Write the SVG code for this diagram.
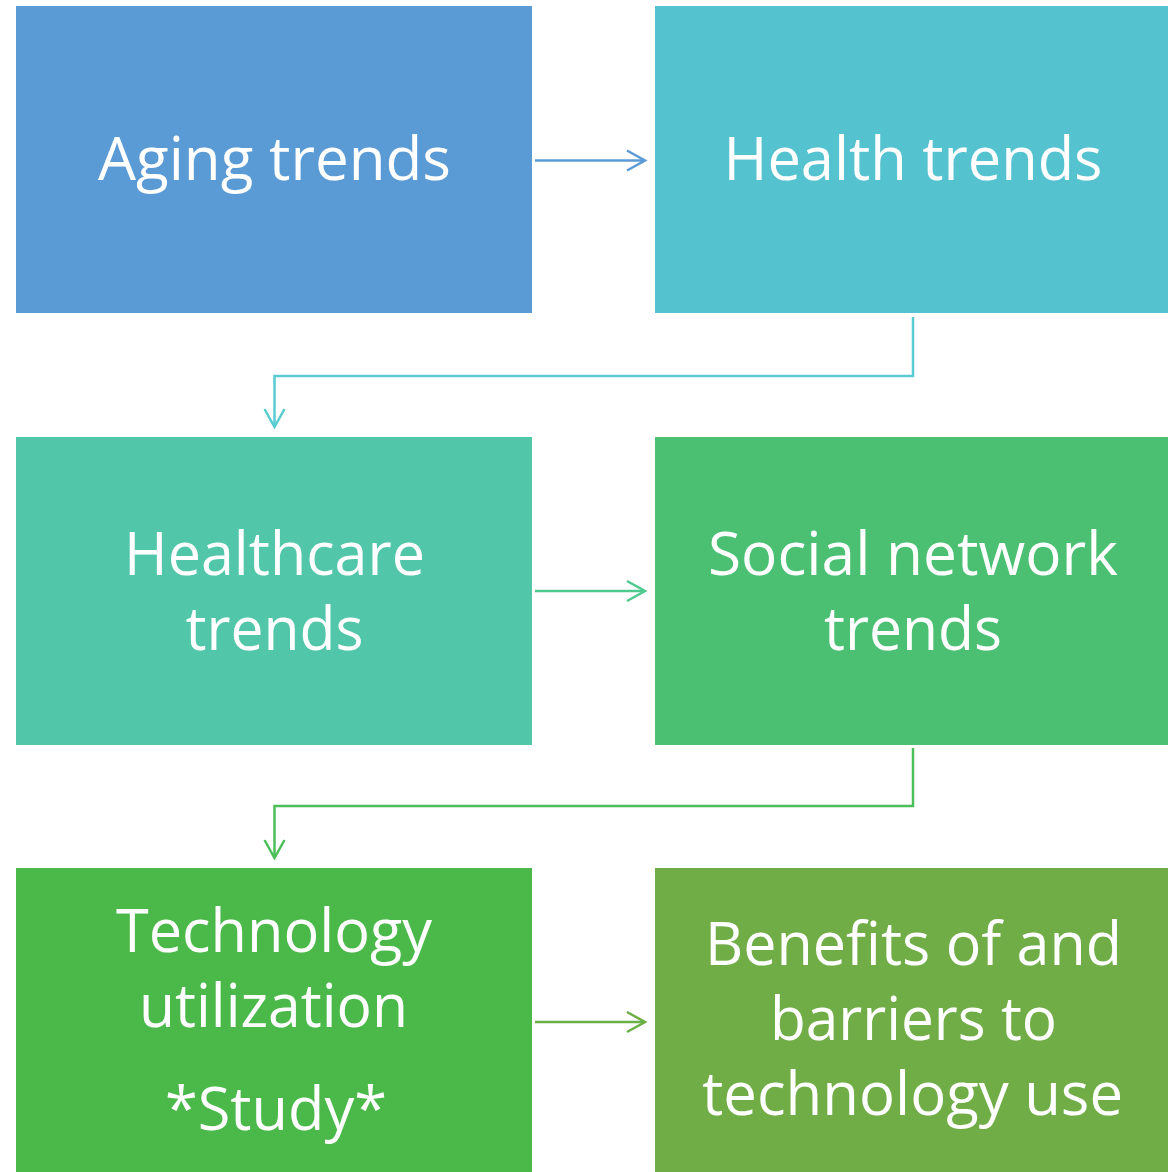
<svg xmlns="http://www.w3.org/2000/svg" width="1168" height="1172" viewBox="0 0 1168 1172">
  <style>
    .lbl { font-family: "Open Sans", "Noto Sans", sans-serif; font-size: 61px; fill: #ffffff; text-anchor: middle; }
    .con { fill: none; stroke-width: 2.5; stroke-linejoin: miter; }
    .head { fill: none; stroke-width: 2.5; stroke-linecap: butt; stroke-linejoin: miter; }
  </style>
  <rect width="1168" height="1172" fill="#ffffff"/>

  <g id="node-aging">
    <rect x="16" y="6" width="516" height="307" fill="#5B9BD5"/>
    <text class="lbl" x="274.5" y="180" textLength="353" lengthAdjust="spacingAndGlyphs">Aging trends</text>
  </g>
  <g id="node-health">
    <rect x="655" y="6" width="513" height="307" fill="#55C2CF"/>
    <text class="lbl" x="913" y="180" textLength="379" lengthAdjust="spacingAndGlyphs">Health trends</text>
  </g>
  <g id="node-healthcare">
    <rect x="16" y="437" width="516" height="308" fill="#51C6A9"/>
    <text class="lbl" x="274.5" y="575" textLength="301" lengthAdjust="spacingAndGlyphs">Healthcare</text>
    <text class="lbl" x="274.5" y="650" textLength="178" lengthAdjust="spacingAndGlyphs">trends</text>
  </g>
  <g id="node-social">
    <rect x="655" y="437" width="513" height="308" fill="#4BC073"/>
    <text class="lbl" x="913" y="575" textLength="410" lengthAdjust="spacingAndGlyphs">Social network</text>
    <text class="lbl" x="913" y="650" textLength="178" lengthAdjust="spacingAndGlyphs">trends</text>
  </g>
  <g id="node-technology">
    <rect x="16" y="868" width="516" height="304" fill="#4AB94A"/>
    <text class="lbl" x="274" y="952" textLength="316" lengthAdjust="spacingAndGlyphs">Technology</text>
    <text class="lbl" x="273.5" y="1027" textLength="269" lengthAdjust="spacingAndGlyphs">utilization</text>
    <text class="lbl" x="276" y="1130" textLength="222" lengthAdjust="spacingAndGlyphs">*Study*</text>
  </g>
  <g id="node-benefits">
    <rect x="655" y="868" width="513" height="304" fill="#70AD47"/>
    <text class="lbl" x="913.5" y="965" textLength="417" lengthAdjust="spacingAndGlyphs">Benefits of and</text>
    <text class="lbl" x="913.5" y="1040" textLength="287" lengthAdjust="spacingAndGlyphs">barriers to</text>
    <text class="lbl" x="912.5" y="1115" textLength="421" lengthAdjust="spacingAndGlyphs">technology use</text>
  </g>

  <g id="connectors">
    <!-- row 1: aging -> health -->
    <path class="con" stroke="#5B9BD5" d="M535 160.5 H645"/>
    <path class="head" stroke="#5B9BD5" d="M627 150.5 L645 160.5 L627 170.5"/>
    <!-- health -> healthcare (elbow) -->
    <path class="con" stroke="#58CCD2" d="M913 317 V376 H274.5 V426"/>
    <path class="head" stroke="#58CCD2" d="M264.5 409 L274.5 427 L284.5 409"/>
    <!-- row 2: healthcare -> social -->
    <path class="con" stroke="#4FC98E" d="M535 591 H645"/>
    <path class="head" stroke="#4FC98E" d="M627 581 L645 591 L627 601"/>
    <!-- social -> technology (elbow) -->
    <path class="con" stroke="#4CBF5A" d="M913 748 V806 H274.5 V857"/>
    <path class="head" stroke="#4CBF5A" d="M264.5 840 L274.5 858 L284.5 840"/>
    <!-- row 3: technology -> benefits -->
    <path class="con" stroke="#6BAF47" d="M535 1022 H645"/>
    <path class="head" stroke="#6BAF47" d="M627 1012 L645 1022 L627 1032"/>
  </g>
</svg>
